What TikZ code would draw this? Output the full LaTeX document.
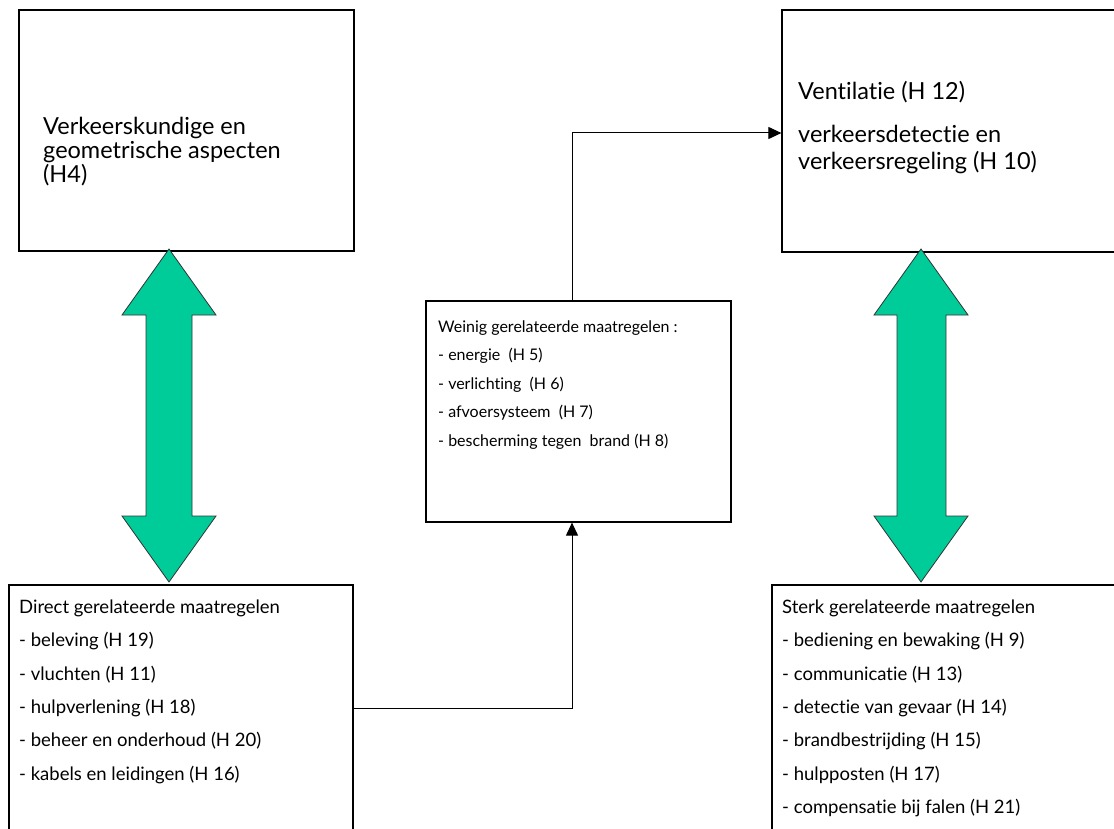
\documentclass[tikz,border=0pt]{standalone}
\usepackage{fontspec}
\setmainfont{Lato}[RawFeature={-liga}]
\usetikzlibrary{arrows.meta}
\definecolor{arrowgreen}{RGB}{0,204,153}
\tikzset{
  box/.style={draw=black, line width=1.2pt, fill=white, inner sep=0pt},
  txt/.style={inner sep=0pt, anchor=base west, text=black},
  big/.style={txt, font=\fontsize{23.5}{25}\selectfont},
  small/.style={txt, font=\fontsize{16}{18}\selectfont},
  mid/.style={txt, font=\fontsize{18.5}{20}\selectfont},
  conn/.style={draw=black, line width=1pt},
  tip/.style={-{Triangle[length=13pt,width=12pt]}},
  bigarrow/.style={fill=arrowgreen, draw=black!80, line width=0.8pt, line join=miter},
}
\begin{document}
\begin{tikzpicture}[x=1pt,y=-1pt]
\useasboundingbox (0,0) rectangle (1114,829);
\clip (0,0) rectangle (1114,829);
\fill[white] (0,0) rectangle (1114,829);

% boxes
\node[box, minimum width=335pt, minimum height=241pt] (tl) at (186.5,130.5) {};
\node[box, minimum width=340pt, minimum height=242pt] (tr) at (952,131) {};
\node[box, minimum width=305pt, minimum height=221pt] (mid) at (578.5,411.5) {};
\node[box, minimum width=344pt, minimum height=260pt] (bl) at (181,715) {};
\node[box, minimum width=350pt, minimum height=260pt] (br) at (947,715) {};

% texts top-left
\node[big] (tl1) at (43,135) {Verkeerskundige en};
\node[big] (tl2) at (43,159) {geometrische aspecten};
\node[big] (tl3) at (43,183) {(H4)};

% texts top-right
\node[big] (tr1) at (798,100) {Ventilatie (H 12)};
\node[big] (tr2) at (798,143) {verkeersdetectie en};
\node[big] (tr3) at (798,170) {verkeersregeling (H 10)};

% texts middle
\node[small] (m1) at (438,332) {Weinig gerelateerde maatregelen :};
\node[small] (m2) at (438,360.5) {- energie\ \ (H 5)};
\node[small] (m3) at (438,389) {- verlichting\ \ (H 6)};
\node[small] (m4) at (438,417.5) {- afvoersysteem\ \ (H 7)};
\node[small] (m5) at (438,446) {- bescherming tegen\ \ brand (H 8)};

% texts bottom-left
\node[mid] (b1) at (19,613) {Direct gerelateerde maatregelen};
\node[mid] (b2) at (19,646.5) {- beleving (H 19)};
\node[mid] (b3) at (19,680) {- vluchten (H 11)};
\node[mid] (b4) at (19,713) {- hulpverlening (H 18)};
\node[mid] (b5) at (19,746.5) {- beheer en onderhoud (H 20)};
\node[mid] (b6) at (19,780) {- kabels en leidingen (H 16)};

% texts bottom-right
\node[mid] (r1) at (782,613) {Sterk gerelateerde maatregelen};
\node[mid] (r2) at (782,646.5) {- bediening en bewaking (H 9)};
\node[mid] (r3) at (782,680) {- communicatie (H 13)};
\node[mid] (r4) at (782,713) {- detectie van gevaar (H 14)};
\node[mid] (r5) at (782,746.5) {- brandbestrijding (H 15)};
\node[mid] (r6) at (782,780) {- hulpposten (H 17)};
\node[mid] (r7) at (782,813) {- compensatie bij falen (H 21)};

% big green double arrows
\draw[bigarrow] (169,249) -- (216,315) -- (192,315) -- (192,516) -- (216,516) -- (169,582)
  -- (122,516) -- (146,516) -- (146,315) -- (122,315) -- cycle;
\draw[bigarrow] (921,249) -- (968,315) -- (946,315) -- (946,516) -- (968,516) -- (921,582)
  -- (874,516) -- (897,516) -- (897,315) -- (874,315) -- cycle;

% connectors
\coordinate (j1) at (572,708);
\coordinate (j2) at (572,133);
\draw[conn, tip] (j1 -| bl.east) -- (j1) -- (j1 |- mid.south);
\draw[conn, tip] (j2 |- mid.north) -- (j2) -- (j2 -| tr.west);
\end{tikzpicture}
\end{document}
